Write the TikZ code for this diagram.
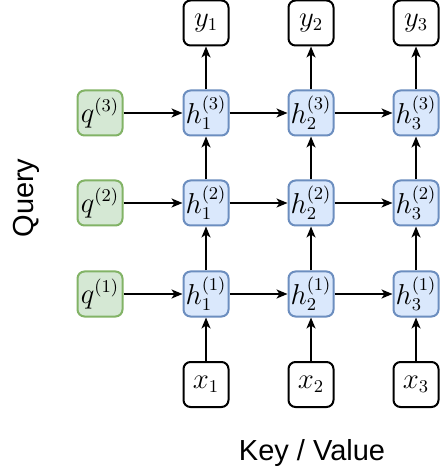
\documentclass[tikz,border=0pt]{standalone}
\usepackage{amsmath,amssymb}
\usepackage{fontspec}
\newfontfamily\labelfont{Liberation Sans}
\usepackage{tikz}
\usetikzlibrary{arrows.meta}

\definecolor{qfill}{HTML}{D5E8D4}
\definecolor{qline}{HTML}{82B366}
\definecolor{hfill}{HTML}{DAE8FC}
\definecolor{hline}{HTML}{6C8EBF}

\tikzset{
    cell/.style={rectangle, rounded corners=3.5pt, line width=1pt,
        minimum width=22.5pt, minimum height=22.5pt, inner sep=0pt,
        font=\fontsize{13.5}{15}\selectfont},
    iobox/.style={cell, draw=black, fill=white},
    qbox/.style={cell, draw=qline, fill=qfill},
    hbox/.style={cell, draw=hline, fill=hfill},
    link/.style={line width=0.9pt, -{Stealth[length=5.5pt, width=4.5pt, inset=1.5pt]}},
    axislabel/.style={font=\labelfont\fontsize{14.5}{16}\selectfont}
}

\begin{document}
\begin{tikzpicture}[x=0.5pt, y=-0.5pt]
    \useasboundingbox (0,0) rectangle (441,474);

    \node[iobox] (y1) at (206,23) {$y_1$};
    \node[iobox] (y2) at (311,23) {$y_2$};
    \node[iobox] (y3) at (416,23) {$y_3$};

    \node[qbox] (q3) at (100,113) {$q^{(3)}$};
    \node[qbox] (q2) at (100,203) {$q^{(2)}$};
    \node[qbox] (q1) at (100,294) {$q^{(1)}$};

    \node[hbox] (h13) at (206,113) {$h_1^{(3)}$};
    \node[hbox] (h23) at (311,113) {$h_2^{(3)}$};
    \node[hbox] (h33) at (416,113) {$h_3^{(3)}$};
    \node[hbox] (h12) at (206,203) {$h_1^{(2)}$};
    \node[hbox] (h22) at (311,203) {$h_2^{(2)}$};
    \node[hbox] (h32) at (416,203) {$h_3^{(2)}$};
    \node[hbox] (h11) at (206,294) {$h_1^{(1)}$};
    \node[hbox] (h21) at (311,294) {$h_2^{(1)}$};
    \node[hbox] (h31) at (416,294) {$h_3^{(1)}$};

    \node[iobox] (x1) at (206,384.5) {$x_1$};
    \node[iobox] (x2) at (311,384.5) {$x_2$};
    \node[iobox] (x3) at (416,384.5) {$x_3$};

    \draw[link] (q3) -- (h13);
    \draw[link] (h13) -- (h23);
    \draw[link] (h23) -- (h33);
    \draw[link] (q2) -- (h12);
    \draw[link] (h12) -- (h22);
    \draw[link] (h22) -- (h32);
    \draw[link] (q1) -- (h11);
    \draw[link] (h11) -- (h21);
    \draw[link] (h21) -- (h31);

    \draw[link] (x1) -- (h11);
    \draw[link] (h11) -- (h12);
    \draw[link] (h12) -- (h13);
    \draw[link] (h13) -- (y1);
    \draw[link] (x2) -- (h21);
    \draw[link] (h21) -- (h22);
    \draw[link] (h22) -- (h23);
    \draw[link] (h23) -- (y2);
    \draw[link] (x3) -- (h31);
    \draw[link] (h31) -- (h32);
    \draw[link] (h32) -- (h33);
    \draw[link] (h33) -- (y3);

    \node[axislabel, rotate=90] (query) at (26,198) {Query};
    \node[axislabel] (keyvalue) at (312,453) {Key / Value};
\end{tikzpicture}
\end{document}
